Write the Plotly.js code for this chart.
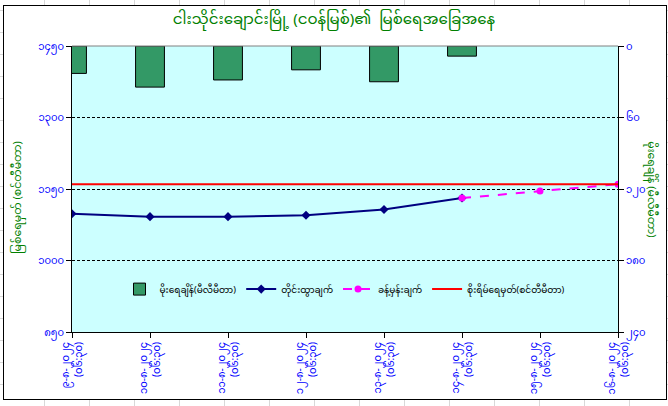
<!DOCTYPE html>
<html>
<head>
<meta charset="utf-8">
<script src="https://cdn.plot.ly/plotly-3.0.1.min.js"></script>
<style>
  html, body { margin:0; padding:0; width:668px; height:406px; overflow:hidden;
    background-color:#ffffff;
    background-image:
      repeating-linear-gradient(90deg, transparent 0px, transparent 44px, #d8d8d8 44px, #d8d8d8 45px),
      repeating-linear-gradient(0deg, transparent 0px, transparent 21px, #d8d8d8 21px, #d8d8d8 22px);
  }
  #frame { position:absolute; left:3px; top:5px; width:662px; height:393px;
    border:1px solid #000; background:#ffffff; }
  #chart { position:absolute; left:0; top:0; width:668px; height:406px; }
</style>
</head>
<body>
<div id="frame"></div>
<div id="chart"></div>
<script>
// ---- data ----
const dates = ["၉-၈-၂၀၂၄","၁၀-၈-၂၀၂၄","၁၁-၈-၂၀၂၄","၁၂-၈-၂၀၂၄","၁၃-၈-၂၀၂၄","၁၄-၈-၂၀၂၄","၁၅-၈-၂၀၂၄","၁၆-၈-၂၀၂၄"];
const times = ["(၀၆:၃၀)","(၀၆:၃၀)","(၀၆:၃၀)","(၀၆:၃၀)","(၀၆:၃၀)","(၀၆:၃၀)","(၀၆:၃၀)","(၀၆:၃၀)"];
const rainfall = [23, 34.5, 28.5, 20, 30, 8.5, null, null];          // mm (right axis)
const observed = [1098, 1092, 1092, 1095, 1107, 1131, null, null];  // cm
const forecast = [null, null, null, null, null, 1131, 1146, 1160];  // cm
const danger   = [1160, 1160, 1160, 1160, 1160, 1160, 1160, 1160];  // cm
const leftTickVals  = [850, 1000, 1150, 1300, 1450];
const leftTickText  = ["၈၅၀","၁၀၀၀","၁၁၅၀","၁၃၀၀","၁၄၅၀"];
const rightTickVals = [0, 60, 120, 180, 240];
const rightTickText = ["၀","၆၀","၁၂၀","၁၈၀","၂၄၀"];
const names = ["မိုးရေချိန်(မီလီမီတာ)","တိုင်းထွာချက်","ခန့်မှန်းချက်","စိုးရိမ်ရေမှတ်(စင်တီမီတာ)"];
const titleText = "ငါးသိုင်းချောင်းမြို့ (ငဝန်မြစ်)၏  မြစ်ရေအခြေအနေ";
const leftTitle = "မြစ်ရေမှတ် (စင်တီမီတာ)";
const rightTitle = "မိုးရေချိန် (မီလီမီတာ)";

const cats = dates.map((d, i) => d + "<br>" + times[i]);
const FONT = "'Noto Sans Myanmar', Padauk, 'Myanmar Text', 'DejaVu Sans', sans-serif";

const traces = [
  { type:"bar", x:cats, y:rainfall, yaxis:"y2", name:names[0], width:0.37,
    marker:{color:"#339966", line:{color:"#000000", width:1}} },
  { type:"scatter", mode:"lines+markers", x:cats, y:observed, name:names[1],
    line:{color:"#000080", width:2}, marker:{symbol:"diamond", size:7, color:"#000080"} },
  { type:"scatter", mode:"lines+markers", x:cats, y:forecast, name:names[2],
    line:{color:"#FF00FF", width:2, dash:"dash"}, marker:{symbol:"circle", size:7, color:"#FF00FF"} },
  { type:"scatter", mode:"lines", x:cats, y:danger, name:names[3],
    line:{color:"#FF0000", width:2} }
];

const layout = {
  width:668, height:406,
  margin:{l:72, r:50, t:46, b:74},
  paper_bgcolor:"rgba(0,0,0,0)",
  plot_bgcolor:"#CCFFFF",
  font:{family:FONT, size:10, color:"#0000FF"},
  title:{text:titleText, x:0.5, xanchor:"center", y:0.955, yanchor:"middle",
    font:{family:FONT, size:15, color:"#008000"}},
  showlegend:true,
  legend:{orientation:"h", x:0.5, xanchor:"center", y:0.15, yanchor:"middle",
    bgcolor:"rgba(0,0,0,0)", font:{family:FONT, size:9, color:"#000000"},
    traceorder:"normal", itemwidth:30},
  xaxis:{type:"category", range:[0, 7], showgrid:false, zeroline:false,
    showline:true, linecolor:"#000000", linewidth:1,
    ticks:"outside", ticklen:5, tickcolor:"#000000", tickangle:-90,
    tickfont:{family:FONT, size:10, color:"#0000FF"}},
  yaxis:{range:[850, 1450], tickvals:leftTickVals, ticktext:leftTickText,
    showgrid:true, gridcolor:"#000000", gridwidth:1, griddash:"3px,2px",
    zeroline:false, showline:true, linecolor:"#000000", linewidth:1,
    ticks:"outside", ticklen:5, tickcolor:"#000000",
    tickfont:{family:FONT, size:10, color:"#0000FF"}},
  yaxis2:{overlaying:"y", side:"right", range:[240, 0],
    tickvals:rightTickVals, ticktext:rightTickText,
    showgrid:false, zeroline:false, showline:true, linecolor:"#000000", linewidth:1,
    ticks:"outside", ticklen:5, tickcolor:"#000000",
    tickfont:{family:FONT, size:10, color:"#0000FF"}},
  bargap:0.6,
  shapes:[
    {type:"line", xref:"paper", yref:"paper", x0:0, x1:1, y0:1, y1:1,
     line:{color:"#808080", width:1}}
  ],
  annotations:[
    {text:leftTitle, xref:"paper", yref:"paper", x:-0.1, y:0.47, textangle:-90,
     showarrow:false, xanchor:"center", yanchor:"middle",
     font:{family:FONT, size:11, color:"#008000"}},
    {text:rightTitle, xref:"paper", yref:"paper", x:1.06, y:0.5, textangle:90,
     showarrow:false, xanchor:"center", yanchor:"middle",
     font:{family:FONT, size:11, color:"#008000"}}
  ]
};

Plotly.newPlot("chart", traces, layout, {displayModeBar:false, staticPlot:true});
</script>
</body>
</html>
